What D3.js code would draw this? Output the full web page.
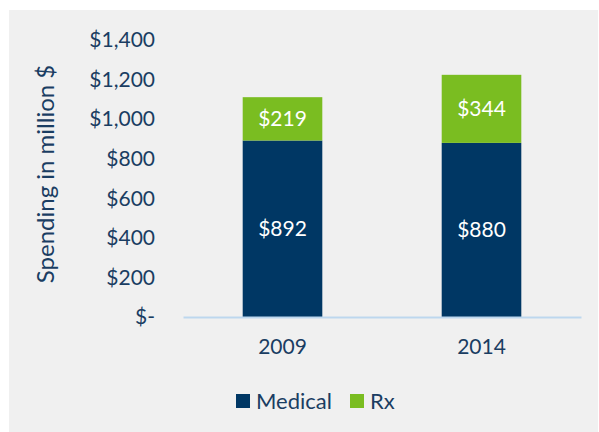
<!DOCTYPE html>
<html>
<head>
<meta charset="utf-8">
<script src="https://d3js.org/d3.v7.min.js"></script>
<style>
  body { margin: 0; background: #fff; }
  svg { font-family: Lato, "Open Sans", sans-serif; }
</style>
</head>
<body>
<script>
  // data
  var years = ["2009", "2014"];
  var medical = [892, 880];
  var rx = [219, 344];
  var yTicks = [0, 200, 400, 600, 800, 1000, 1200, 1400];
  var seriesNames = ["Medical", "Rx"];
  var seriesColors = ["#003764", "#7abd21"];

  var W = 599, H = 432;
  var textColor = "#1a3d62";
  var margin = {top: 40, right: 18, bottom: 115, left: 183},
      width = W - margin.left - margin.right,
      height = 317 - margin.top;

  var svg = d3.select("body").append("svg")
      .attr("width", W)
      .attr("height", H);

  svg.append("rect")
      .attr("x", 9).attr("y", 10)
      .attr("width", W - 10).attr("height", H - 10)
      .attr("fill", "#f0f0f0");

  var g = svg.append("g")
      .attr("transform", "translate(" + margin.left + "," + margin.top + ")");

  var x = d3.scaleBand().domain(years).range([0, width])
      .paddingInner(0.6).paddingOuter(0.3);
  var y = d3.scaleLinear().domain([0, 1400]).range([height, 0]);

  var fmt = function(v) { return v === 0 ? "$-" : "$" + d3.format(",")(v); };

  // y tick labels (no axis line)
  var yAxis = d3.axisLeft(y).tickValues(yTicks).tickFormat(fmt).tickSize(0).tickPadding(28);
  var ya = g.append("g").call(yAxis);
  ya.select(".domain").remove();
  ya.selectAll("text")
      .attr("fill", textColor)
      .style("font-size", "21px")
      .attr("font-family", "Lato, sans-serif");

  // stacked data
  var table = years.map(function(yr, i) { return {year: yr, Medical: medical[i], Rx: rx[i]}; });
  var stack = d3.stack().keys(seriesNames)(table);

  var layer = g.selectAll(".layer")
      .data(stack)
    .enter().append("g")
      .attr("class", "layer")
      .attr("fill", function(d, i) { return seriesColors[i]; });

  layer.selectAll("rect")
      .data(function(d) { return d; })
    .enter().append("rect")
      .attr("x", function(d) { return x(d.data.year); })
      .attr("y", function(d) { return y(d[1]); })
      .attr("width", x.bandwidth())
      .attr("height", function(d) { return y(d[0]) - y(d[1]); });

  layer.selectAll("text")
      .data(function(d) { return d; })
    .enter().append("text")
      .attr("x", function(d) { return x(d.data.year) + x.bandwidth() / 2; })
      .attr("y", function(d) { return (y(d[0]) + y(d[1])) / 2; })
      .attr("dy", "0.35em")
      .attr("text-anchor", "middle")
      .attr("fill", "#fff")
      .style("font-size", "21px")
      .text(function(d) { return "$" + (d[1] - d[0]); });

  // x axis
  var xAxis = d3.axisBottom(x).tickSize(0).tickPadding(22);
  var xa = g.append("g")
      .attr("transform", "translate(0," + height + ")")
      .call(xAxis);
  xa.select(".domain").attr("stroke", "#bdd7ee").attr("stroke-width", 2);
  xa.selectAll("text")
      .attr("fill", textColor)
      .style("font-size", "21px")
      .attr("font-family", "Lato, sans-serif");

  // y axis title
  svg.append("text")
      .attr("transform", "translate(54,174) rotate(-90)")
      .attr("text-anchor", "middle")
      .attr("fill", textColor)
      .style("font-size", "24px")
      .text("Spending in million $");

  // legend
  var legendX = [236, 350];
  var legend = svg.selectAll(".legend")
      .data(seriesNames)
    .enter().append("g")
      .attr("class", "legend")
      .attr("transform", function(d, i) { return "translate(" + legendX[i] + ",394)"; });
  legend.append("rect")
      .attr("width", 14).attr("height", 14)
      .attr("fill", function(d, i) { return seriesColors[i]; });
  legend.append("text")
      .attr("x", 20).attr("y", 7).attr("dy", "0.35em")
      .attr("fill", textColor)
      .style("font-size", "22px")
      .text(function(d) { return d; });
</script>
</body>
</html>
